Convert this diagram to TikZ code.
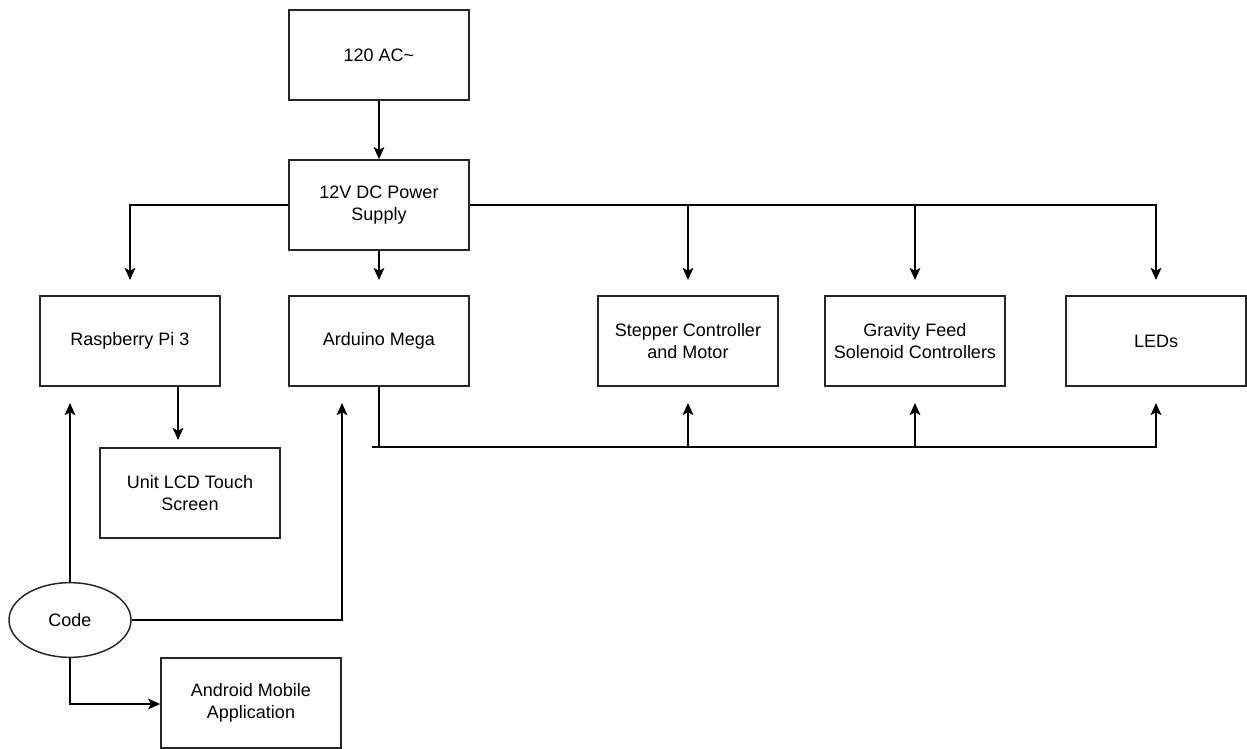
\documentclass[tikz,border=0pt]{standalone}
\usepackage{fontspec}
\setmainfont{Liberation Sans}
\usetikzlibrary{arrows.meta,shapes.geometric}
\begin{document}
\begin{tikzpicture}[x=0.75pt,y=-0.75pt,
  line width=1.3pt,
  box/.style={draw=black!85,line width=1.3pt,minimum width=135pt,minimum height=67.5pt,inner sep=0pt,align=center,font=\fontsize{13.5}{16}\selectfont},
  oval/.style={draw=black!85,line width=1.1pt,ellipse,minimum width=91.5pt,minimum height=56pt,inner sep=0pt,font=\fontsize{13.5}{16}\selectfont},
  arr/.style={-{Stealth[length=9pt,width=8pt,inset=2pt]}},
  wire/.style={draw=black,line width=1.3pt}]
\useasboundingbox (0,0) rectangle (1247,749);
\node[box] (ac) at (379,55) {120 AC\textasciitilde};
\node[box] (ps) at (379,205) {12V DC Power\\Supply};
\node[box] (rpi) at (130,341) {Raspberry Pi 3};
\node[box] (ard) at (379,341) {Arduino Mega};
\node[box] (step) at (688,341) {Stepper Controller\\and Motor};
\node[box] (grav) at (915,341) {Gravity Feed\\Solenoid Controllers};
\node[box] (leds) at (1156,341) {LEDs};
\node[box] (lcd) at (190,493) {Unit LCD Touch\\Screen};
\node[oval] (code) at (70,620) {Code};
\node[box] (andr) at (251,703) {Android Mobile\\Application};
% free ends
\coordinate (rpiT) at (130,280);
\coordinate (ardT) at (379,280);
\coordinate (stepT) at (688,280);
\coordinate (gravT) at (915,280);
\coordinate (ledsT) at (1156,280);
\coordinate (stepJ) at (688,205);
\coordinate (gravJ) at (915,205);
\coordinate (ledsJ) at (1156,205);
\coordinate (rpiB) at (178,386);
\coordinate (lcdT) at (178,440);
\coordinate (busA) at (379,447);
\coordinate (busL) at (372,447);
\coordinate (busR) at (1156,447);
\coordinate (stepB) at (688,403);
\coordinate (gravB) at (915,403);
\coordinate (ledsB) at (1156,403);
\coordinate (stepBJ) at (688,447);
\coordinate (gravBJ) at (915,447);
\coordinate (rpiU) at (70,403);
\coordinate (ardU) at (342,403);
\coordinate (codeR) at (342,620);
\coordinate (codeD) at (70,704);
% power
\draw[wire,arr] (ac.south) -- (ps.north);
\draw[wire,arr] (ps.west) -| (rpiT);
\draw[wire,arr] (ps.south) -- (ardT);
\draw[wire,arr] (ps.east) -- (ledsJ) -- (ledsT);
\draw[wire,arr] (stepJ) -- (stepT);
\draw[wire,arr] (gravJ) -- (gravT);
% rpi to lcd
\draw[wire,arr] (rpiB) -- (lcdT);
% arduino bus
\draw[wire] (ard.south) -- (busA);
\draw[wire,arr] (busL) -- (busR) -- (ledsB);
\draw[wire,arr] (stepBJ) -- (stepB);
\draw[wire,arr] (gravBJ) -- (gravB);
% code
\draw[wire,arr] (code.north) -- (rpiU);
\draw[wire,arr] (code.east) -- (codeR) -- (ardU);
\draw[wire,arr] (code.south) -- (codeD) -- (codeD -| andr.west);
\end{tikzpicture}
\end{document}
